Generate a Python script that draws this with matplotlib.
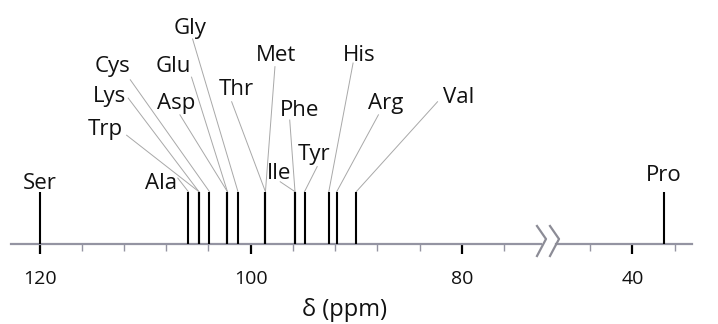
import matplotlib
matplotlib.use("Agg")
from matplotlib import pyplot as plt
from matplotlib.lines import Line2D

plt.rcParams['font.family'] = ['Open Sans', 'DejaVu Sans']

# residue shifts in ppm
residues = ["Ser", "Ala", "Trp", "Lys", "Cys", "Asp", "Glu", "Gly", "Thr", "Met",
            "Ile", "Phe", "Tyr", "His", "Arg", "Val", "Pro"]
shifts = [120.0, 105.9, 104.9, 104.9, 103.9, 102.2, 102.2, 101.2, 98.6, 98.6,
          95.8, 95.8, 94.9, 92.6, 91.85, 90.0, 37.0]

major_left = [120, 100, 80]
major_right = [40]
minor_left = [116, 112, 108, 104, 96, 92, 88, 84, 76]
minor_right = [44, 36]

# label placement: (x, baseline y, leader start x, leader start y)
label_at = {
    "Ala": (108.5, 1.05, 106.9, 1.26),
    "Trp": (113.8, 2.08, 111.75, 2.08),
    "Lys": (113.4, 2.72, 111.6, 2.79),
    "Cys": (113.1, 3.28, 111.4, 3.14),
    "Asp": (107.1, 2.59, 106.7, 2.47),
    "Glu": (107.3, 3.28, 105.6, 3.19),
    "Gly": (105.75, 4.02, 105.5, 3.92),
    "Thr": (101.4, 2.85, 101.8, 2.72),
    "Met": (97.6, 3.49, 97.7, 3.39),
    "Ile": (97.3, 1.25, 97.2, 1.19),
    "Phe": (95.4, 2.45, 96.3, 2.37),
    "Tyr": (94.0, 1.61, 93.7, 1.48),
    "His": (89.7, 3.50, 90.3, 3.46),
    "Arg": (87.2, 2.59, 87.9, 2.47),
    "Val": (80.3, 2.70, 82.3, 2.72),
}

W, H = 718, 324
fig = plt.figure(figsize=(W / 100, H / 100), dpi=100)
axL = fig.add_axes([11 / W, 80 / H, (541 - 11) / W, 244 / H])
axR = fig.add_axes([556 / W, 80 / H, (691.7 - 556) / W, 244 / H])
axL.set_xlim(122.7, 72.5)
axR.set_xlim(47.2, 34.4)

axis_col = "#9494a2"
ytop = 244 / 52.3
for ax, majors, minors in [(axL, major_left, minor_left), (axR, major_right, minor_right)]:
    ax.set_ylim(0, ytop)
    ax.patch.set_visible(False)
    for s in ["top", "left", "right"]:
        ax.spines[s].set_visible(False)
    ax.spines["bottom"].set_color(axis_col)
    ax.spines["bottom"].set_linewidth(1.6)
    ax.set_yticks([])
    ax.set_xticks(majors)
    ax.set_xticks(minors, minor=True)
    ax.tick_params(axis="x", which="major", direction="out", length=7, width=1.6,
                   color="black", labelsize=14, pad=12, labelcolor="#111111")
    ax.tick_params(axis="x", which="minor", direction="out", length=5, width=1.0,
                   color=axis_col)

# sticks
for name, d in zip(residues, shifts):
    ax = axL if d > 60 else axR
    ax.vlines(d, 0, 1, color="black", lw=1.5, zorder=3)
    if name in label_at:
        x, y, lx, ly = label_at[name]
        ax.plot([lx, d], [ly, 1.0], color="#a8a8a8", lw=0.7, zorder=2)
        ax.text(x, y, name, ha="center", va="baseline", fontsize=16, color="#111111")
    else:
        ax.text(d, 1.06 if ax is axL else 1.2, name, ha="center", va="baseline",
                fontsize=16, color="#111111")

# axis break marks
for off in [0, 13]:
    xs = [(537 + off) / W, (546 + off) / W, (537 + off) / W]
    ys = [(H - 226) / H, (H - 239) / H, (H - 256) / H]
    fig.add_artist(Line2D(xs, ys, color="#8c8c96", lw=1.6))

fig.text(345 / W, (H - 316) / H, "δ (ppm)", ha="center", va="baseline",
         fontsize=17, color="#111111")

fig.savefig("out.png", dpi=100)
